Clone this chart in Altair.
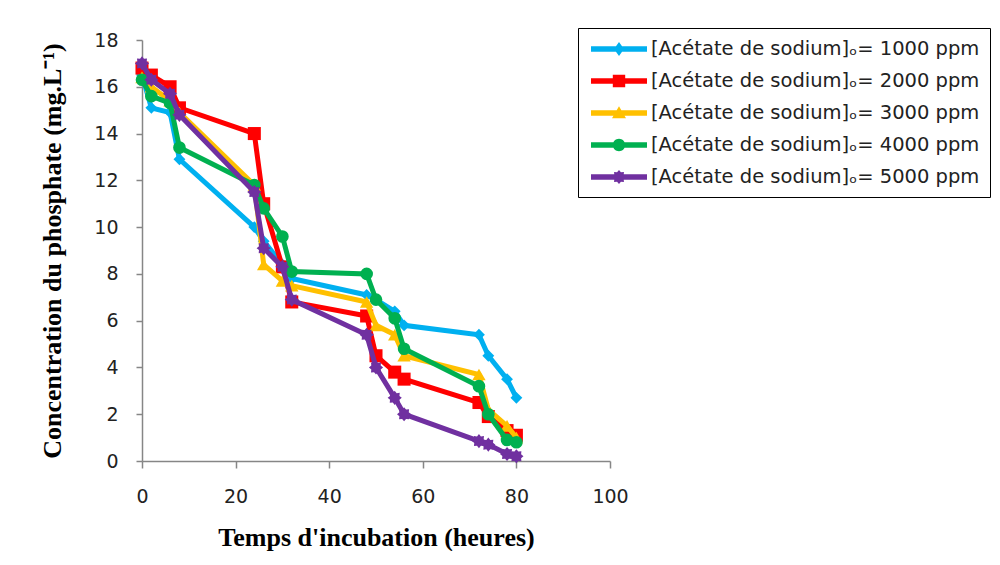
import math
import altair as alt
import pandas as pd

# ---- data ----
times = [0, 2, 6, 8, 24, 26, 30, 32, 48, 50, 54, 56, 72, 74, 78, 80]
c1000 = [16.5, 15.1, 14.9, 12.9, 10.0, 9.4, 8.4, 7.8, 7.1, 6.9, 6.4, 5.8, 5.4, 4.5, 3.5, 2.7]
c2000 = [16.8, 16.5, 16.0, 15.1, 14.0, 11.0, 8.3, 6.8, 6.2, 4.5, 3.8, 3.5, 2.5, 1.9, 1.3, 1.1]
c3000 = [16.4, 16.0, 15.4, 14.9, 11.8, 8.4, 7.7, 7.5, 6.8, 5.8, 5.4, 4.5, 3.7, 2.2, 1.5, 1.0]
c4000 = [16.3, 15.6, 15.3, 13.4, 11.8, 10.8, 9.6, 8.1, 8.0, 6.9, 6.1, 4.8, 3.2, 2.0, 0.9, 0.8]
c5000 = [17.0, 16.3, 15.7, 14.8, 11.5, 9.1, 8.3, 6.9, 5.4, 4.0, 2.7, 2.0, 0.85, 0.7, 0.3, 0.2]

names = [
    "[Acétate de sodium]ₒ= 1000 ppm",
    "[Acétate de sodium]ₒ= 2000 ppm",
    "[Acétate de sodium]ₒ= 3000 ppm",
    "[Acétate de sodium]ₒ= 4000 ppm",
    "[Acétate de sodium]ₒ= 5000 ppm",
]
series_vals = [c1000, c2000, c3000, c4000, c5000]
colors = ["#00B0F0", "#FF0000", "#FFC000", "#00B050", "#7030A0"]

x_ticks = [0, 20, 40, 60, 80, 100]
y_ticks = [0, 2, 4, 6, 8, 10, 12, 14, 16, 18]

rows = []
for name, vals in zip(names, series_vals):
    for t, v in zip(times, vals):
        rows.append({"series": name, "t": t, "v": v})
df = pd.DataFrame(rows)


# ---- marker shapes ----
def star_path(r_out=1.0, r_in=0.72, n=8, s=1.0):
    pts = []
    for i in range(2 * n):
        r = r_out if i % 2 == 0 else r_in
        a = -math.pi / 2 + i * math.pi / n
        pts.append((s * r * math.cos(a), s * r * math.sin(a)))
    return "M" + " L".join(f"{x:.3f},{y:.3f}" for x, y in pts) + " Z"


line_rect = "M-2.8,-0.28 L2.8,-0.28 L2.8,0.28 L-2.8,0.28 Z "
legend_paths = [
    line_rect + "M0,-0.7 L0.5,0 L0,0.7 L-0.5,0 Z",
    line_rect + "M-0.62,-0.62 L0.62,-0.62 L0.62,0.62 L-0.62,0.62 Z",
    line_rect + "M0,-0.68 L0.7,0.52 L-0.7,0.52 Z",
    line_rect + "M0.62,0 A0.62,0.62 0 1,1 -0.62,0 A0.62,0.62 0 1,1 0.62,0 Z",
    line_rect + star_path(s=0.7),
]
plot_shapes = ["diamond", "square", "triangle-up", "circle", star_path()]
plot_sizes = [140, 170, 180, 160, 200]

label_font = "DejaVu Sans"
title_font = "Liberation Serif"

x_enc = alt.X(
    "t:Q",
    scale=alt.Scale(domain=[0, 100], nice=False),
    axis=alt.Axis(
        values=x_ticks, title="Temps d'incubation (heures)", grid=False,
        tickSize=7, labelPadding=19, titlePadding=18, labelFlush=False,
        labelFont=label_font, labelFontSize=19, labelColor="#222222",
        titleFont=title_font, titleFontSize=26, titleFontWeight="bold", titleColor="#000000",
        domainColor="#868686", tickColor="#868686", domainWidth=1.5, tickWidth=1.5,
    ),
)
y_enc = alt.Y(
    "v:Q",
    scale=alt.Scale(domain=[0, 18], nice=False),
    axis=alt.Axis(
        values=y_ticks, title="Concentration du phosphate  (mg.L⁻¹)", grid=False,
        tickSize=6, labelPadding=18, titlePadding=28, labelFlush=False,
        labelFont=label_font, labelFontSize=19, labelColor="#222222",
        titleFont=title_font, titleFontSize=26, titleFontWeight="bold", titleColor="#000000",
        domainColor="#868686", tickColor="#868686", domainWidth=1.5, tickWidth=1.5,
    ),
)

layers = []
for name, col, shp, sz in zip(names, colors, plot_shapes, plot_sizes):
    base = alt.Chart(df).transform_filter(alt.datum.series == name)
    layers.append(
        base.mark_line(strokeWidth=5, color=col).encode(x=x_enc, y=y_enc, order="t:Q")
    )
    layers.append(
        base.mark_point(filled=True, opacity=1, color=col, shape=shp, size=sz).encode(x=x_enc, y=y_enc)
    )

leg = alt.Legend(
    title=None, orient="none", legendX=436, legendY=-12,
    strokeColor="#000000", padding=10, symbolSize=400,
    symbolOffset=20, labelOffset=21, rowPadding=11,
    labelFont=label_font, labelFontSize=19.5, labelColor="#222222", labelLimit=500,
)
legend_layer = (
    alt.Chart(df)
    .transform_filter("false")
    .mark_point(filled=True, opacity=1, size=400)
    .encode(
        x=x_enc, y=y_enc,
        color=alt.Color("series:N", scale=alt.Scale(domain=names, range=colors), legend=leg),
        shape=alt.Shape("series:N", scale=alt.Scale(domain=names, range=legend_paths), legend=leg),
    )
)

chart = (
    alt.layer(*layers, legend_layer)
    .properties(
        width=468, height=421,
        autosize=alt.AutoSizeParams(type="none"),
        padding={"left": 134, "top": 32, "right": 382, "bottom": 90},
    )
    .configure_view(stroke=None)
)

chart.save("out.html", embed_options={"renderer": "svg", "actions": False})
